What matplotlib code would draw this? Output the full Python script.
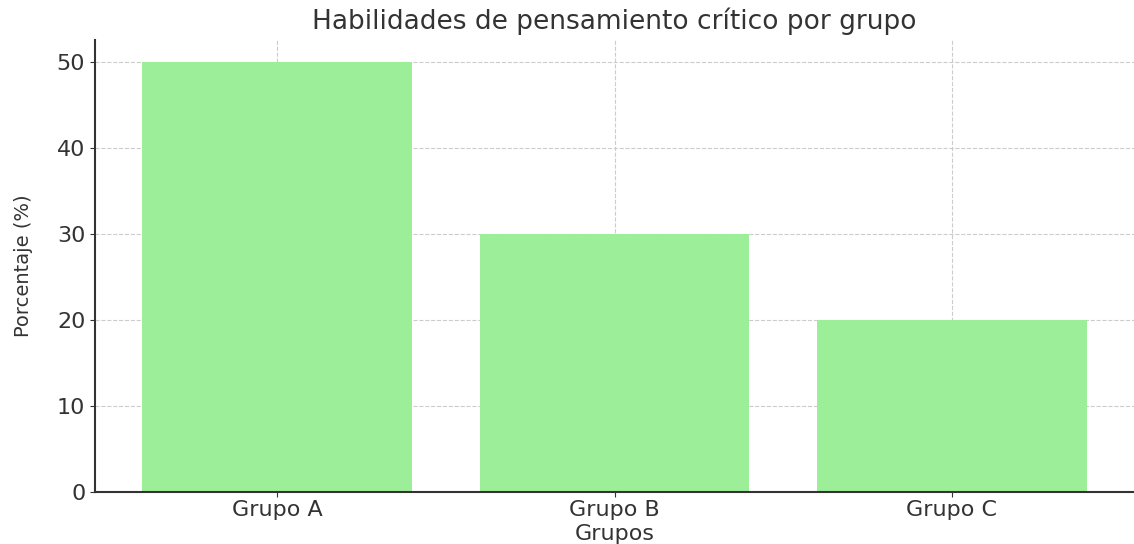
import matplotlib
matplotlib.use("Agg")
import matplotlib.pyplot as plt

categories = ["Grupo A", "Grupo B", "Grupo C"]
values = [50, 30, 20]

fig = plt.figure(figsize=(11.34, 5.44), dpi=100)
ax = fig.add_axes([0.0838, 0.0956, 0.9162, 0.8304])
ax.bar(categories, values, color="#9CEE98", width=0.8, zorder=2)
ax.set_title("Habilidades de pensamiento crítico por grupo", fontsize=19, color="#333333", pad=8)
ax.set_xlabel("Grupos", fontsize=16, color="#333333", labelpad=3)
ax.set_ylabel("Porcentaje (%)", fontsize=14, color="#333333", labelpad=17)
ax.tick_params(axis="y", labelsize=16, colors="#333333")
ax.tick_params(axis="x", labelsize=16, colors="#333333", pad=2)
ax.grid(True, linestyle="--", color="#cccccc", linewidth=0.8, zorder=0)
ax.set_axisbelow(True)
for s in ["top", "right"]:
    ax.spines[s].set_visible(False)
for s in ["left", "bottom"]:
    ax.spines[s].set_color("#333333")
    ax.spines[s].set_linewidth(1.5)
fig.savefig("out.png", dpi=100)
